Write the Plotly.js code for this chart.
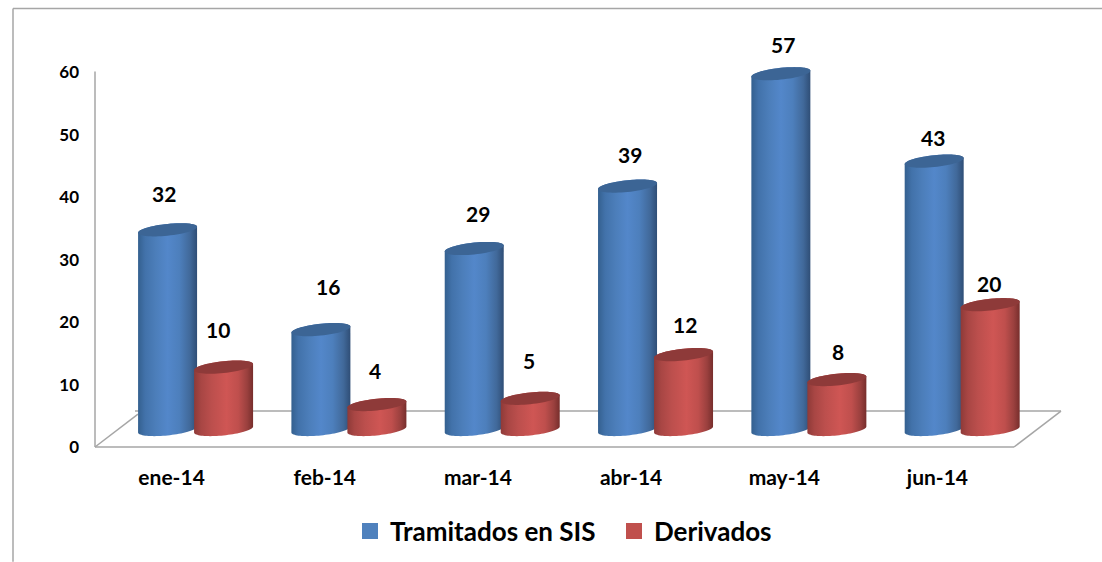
<!DOCTYPE html>
<html><head><meta charset="utf-8">
<script src="https://cdn.plot.ly/plotly-3.0.1.min.js"></script>
<style>html,body{margin:0;padding:0;background:#fff}#c{width:1102px;height:562px}</style>
</head><body><div id="c"></div>
<script>
// ---- data ----
const categories = ['ene-14','feb-14','mar-14','abr-14','may-14','jun-14'];
const tramitados = [32,16,29,39,57,43];
const derivados  = [10,4,5,12,8,20];
const yTicks = [0,10,20,30,40,50,60];
const seriesNames = ['Tramitados en SIS','Derivados'];

// ---- label nudges (pixels, relative to value position on the axes) ----
const blueLabelDx = [-7.2,3.2,0,-1,-1,-4.4];
const blueLabelDy = [54,61,52.75,49,46.75,41];
const redLabelDx  = [46.4,50.2,51,54,53.7,51.6];
const redLabelDy  = [55.5,52,55.5,48,46,39];

// ---- geometry of the drawing ----
const W=1102,H=562,L=95,AX_R=1014,R=1075,T=59.5,AX_T=71,B=447;
const pxX=(AX_R-L)/6, pxY=(B-72)/60;
const xMax=5.5+(R-AX_R)/pxX, yMax=(B-T)/pxY;
const floorLift=2.8, spacing=1.001;
const halfW=29.5/pxX, capB=5.9/pxY, capTilt=3/pxY;
const centerBlue=-4/pxX, centerRed=52/pxX;
const FONT='Lato, Carlito, sans-serif';
const GRAY='#a6a6a6';
const blueScale=[[0,'#34608f'],[0.12,'#4272aa'],[0.3,'#4c7eba'],[0.5,'#5387ca'],[0.7,'#4d7fbc'],[0.88,'#41699a'],[1,'#2f4e76']];
const redScale=[[0,'#8e3a38'],[0.12,'#a84644'],[0.3,'#bc4f4d'],[0.55,'#cf5654'],[0.75,'#bf4f4d'],[0.9,'#9a403e'],[1,'#772e2c']];
const capBlue='#3c6595', capRed='#8e3a39';

function arc(cx,cy,t0,t1,n){
  const xs=[],ys=[];
  for(let i=0;i<=n;i++){
    const t=t0+(t1-t0)*i/n;
    xs.push(cx+halfW*Math.cos(t));
    ys.push(cy+capTilt*Math.cos(t)+capB*Math.sin(t));
  }
  return [xs,ys];
}
const traces=[];
function barTrace(name,vals,center,color){
  const w=halfW*2*0.6;
  traces.push({type:'bar',name:name,x:vals.map((_,i)=>i),y:vals,
    base:vals.map(()=>floorLift),width:w,offset:center-w/2,
    marker:{color:color,line:{color:color,width:4}},hoverinfo:'skip'});
}
function cylinders(vals,center,scale,cap){
  vals.forEach((v,i)=>{
    const cx=i*spacing+center, topY=v+floorLift;
    const low=arc(cx,floorLift,Math.PI,2*Math.PI,40);
    const up=arc(cx,topY,0,Math.PI,40);
    traces.push({type:'scatter',mode:'none',showlegend:false,hoverinfo:'skip',
      x:low[0].concat(up[0]),y:low[1].concat(up[1]),fill:'toself',
      fillgradient:{type:'horizontal',colorscale:scale}});
    const c=arc(cx,topY,0,2*Math.PI,60);
    traces.push({type:'scatter',mode:'none',showlegend:false,hoverinfo:'skip',
      x:c[0],y:c[1],fill:'toself',fillcolor:cap});
  });
}
barTrace(seriesNames[0],tramitados,centerBlue,'#4F81BD');
barTrace(seriesNames[1],derivados,centerRed,'#C0504D');
cylinders(tramitados,centerBlue,blueScale,capBlue);
cylinders(derivados,centerRed,redScale,capRed);

const annotations=[];
function labels(vals,dx,dy){
  vals.forEach((v,i)=>annotations.push({xref:'x',yref:'y',x:i,y:v,text:String(v),
    showarrow:false,xshift:dx[i],yshift:dy[i],font:{family:FONT,size:21,color:'#000',weight:700}}));
}
labels(tramitados,blueLabelDx,blueLabelDy);
labels(derivados,redLabelDx,redLabelDy);

const px=p=>(p-L)/(R-L), py=p=>(B-p)/(B-T);
const seg=(x0,y0,x1,y1)=>({type:'line',xref:'paper',yref:'paper',layer:'below',
  x0:px(x0),y0:py(y0),x1:px(x1),y1:py(y1),line:{color:GRAY,width:1.5}});
const shapes=[
  seg(13,8,1102,8), seg(13,8,13,562),
  seg(95,AX_T,95,447), seg(95,447,AX_R,447),
  seg(95,447,138,414), seg(AX_R,447,1061,411), seg(1061,411,135,411)
];

Plotly.newPlot('c',traces,{
  width:W,height:H,autosize:false,
  margin:{l:L,r:W-R,t:T,b:H-B,pad:0},
  paper_bgcolor:'#fff',plot_bgcolor:'rgba(0,0,0,0)',
  barmode:'overlay',showlegend:true,
  font:{family:FONT,color:'#000'},
  xaxis:{type:'linear',range:[-0.5,xMax],tickmode:'array',tickvals:categories.map((_,i)=>i),ticktext:categories,
    showgrid:false,zeroline:false,showline:false,ticks:'',
    ticklabelstandoff:16,tickfont:{family:FONT,size:21,color:'#000',weight:700},fixedrange:true},
  yaxis:{type:'linear',range:[0,yMax],tickmode:'array',tickvals:yTicks,
    showgrid:false,zeroline:false,showline:false,ticks:'',
    ticklabelstandoff:15,tickfont:{family:FONT,size:17,color:'#000',weight:700},fixedrange:true},
  legend:{orientation:'h',xref:'container',yref:'container',x:350/W,xanchor:'left',y:(H-531)/H,yanchor:'middle',
    entrywidth:219,entrywidthmode:'pixels',
    font:{family:FONT,size:26,color:'#000',weight:700},bgcolor:'rgba(0,0,0,0)',
    itemclick:false,itemdoubleclick:false},
  annotations:annotations,shapes:shapes
},{displayModeBar:false,staticPlot:true});
</script></body></html>
